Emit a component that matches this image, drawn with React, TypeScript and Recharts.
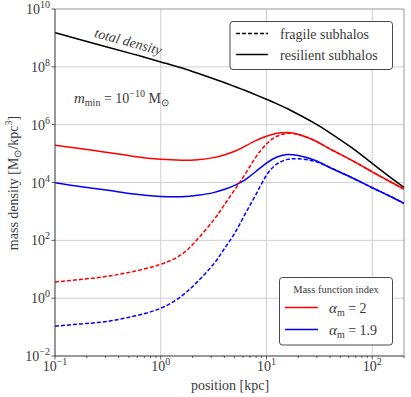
import { LineChart, Line, XAxis, YAxis, ReferenceLine } from "recharts";

// log10(position / kpc) sample points
const logPosition = [-1, -0.75, -0.5, -0.25, 0, 0.2, 0.35, 0.5, 0.6, 0.7, 0.8, 0.9, 1.0, 1.1, 1.2, 1.3, 1.45, 1.6, 1.8, 2.0, 2.15, 2.3];

// log10(mass density / (Msun/kpc^3))
const totalDensity = [9.18, 8.93, 8.68, 8.43, 8.17, 7.96, 7.78, 7.59, 7.46, 7.32, 7.18, 7.03, 6.88, 6.72, 6.55, 6.36, 6.06, 5.72, 5.22, 4.66, 4.24, 3.83];
const redResilient = [5.29, 5.17, 5.04, 4.9, 4.8, 4.77, 4.79, 4.86, 4.95, 5.08, 5.26, 5.45, 5.6, 5.7, 5.73, 5.67, 5.46, 5.16, 4.78, 4.37, 4.07, 3.77];
const redFragile = [0.56, 0.65, 0.76, 0.93, 1.17, 1.52, 2.05, 2.7, 3.22, 3.75, 4.3, 4.88, 5.33, 5.6, 5.7, 5.66, 5.46, 5.16, 4.78, 4.37, 4.07, 3.77];
const blueResilient = [3.99, 3.85, 3.73, 3.6, 3.52, 3.51, 3.56, 3.65, 3.76, 3.9, 4.1, 4.38, 4.67, 4.88, 4.97, 4.93, 4.78, 4.52, 4.18, 3.82, 3.56, 3.28];
const blueFragile = [-0.97, -0.89, -0.8, -0.62, -0.35, 0.08, 0.58, 1.18, 1.7, 2.25, 2.92, 3.58, 4.25, 4.64, 4.8, 4.82, 4.74, 4.52, 4.18, 3.82, 3.56, 3.28];

const xMajor = [-1, 0, 1, 2];
const yMajor = [-2, 0, 2, 4, 6, 8, 10];
const xMax = Math.log10(200);

const data = logPosition.map((lx, i) => ({
  lx,
  total: totalDensity[i],
  redRes: redResilient[i],
  redFrag: redFragile[i],
  blueRes: blueResilient[i],
  blueFrag: blueFragile[i],
}));

const xMinor: number[] = [];
for (let d = -1; d <= 2; d++) {
  for (let k = 2; k <= 9; k++) {
    const v = Math.log10(k * Math.pow(10, d));
    if (v <= xMax + 1e-9) xMinor.push(v);
  }
}
const xTicks = [...xMajor, ...xMinor];

const FONT = "Liberation Serif";
const TXT = "#3a3a3a";

function XTick(props: any) {
  const { x, y, payload } = props;
  const v = payload.value;
  const major = xMajor.some((m) => Math.abs(m - v) < 1e-9);
  return (
    <g>
      <line x1={x} x2={x} y1={y} y2={y + (major ? 3.5 : 2)} stroke="#333" strokeWidth={0.8} />
      {major && (
        <text x={x} y={y + 15} textAnchor="middle" fontFamily={FONT} fontSize={14} fill={TXT}>
          10
          <tspan dy={-6} fontSize={10}>{v < 0 ? "\u2212" + Math.abs(v) : v}</tspan>
        </text>
      )}
    </g>
  );
}

function YTick(props: any) {
  const { x, y, payload } = props;
  const v = payload.value;
  return (
    <g>
      <line x1={x} x2={x - 3.5} y1={y} y2={y} stroke="#333" strokeWidth={0.8} />
      <text x={x - 5} y={y + 5} textAnchor="end" fontFamily={FONT} fontSize={14} fill={TXT}>
        10
        <tspan dy={-6} fontSize={10}>{v < 0 ? "\u2212" + Math.abs(v) : v}</tspan>
      </text>
    </g>
  );
}

export default function App() {
  return (
    <div style={{ position: "fixed", left: 0, top: 0, width: 411, height: 397, background: "#fff" }}>
      <LineChart width={411} height={397} data={data} margin={{ top: 9, right: 7, left: 0, bottom: 0 }}>
        <XAxis
          dataKey="lx"
          type="number"
          domain={[-1, xMax]}
          ticks={xTicks}
          interval={0}
          allowDataOverflow
          height={41}
          tickLine={false}
          tickSize={0}
          tickMargin={0}
          axisLine={{ stroke: "#333", strokeWidth: 1 }}
          tick={<XTick />}
        />
        <YAxis
          type="number"
          domain={[-2, 10]}
          ticks={yMajor}
          interval={0}
          allowDataOverflow
          width={55}
          tickLine={false}
          tickSize={0}
          tickMargin={0}
          axisLine={{ stroke: "#333", strokeWidth: 1 }}
          tick={<YTick />}
        />
        {[0, 1, 2].map((v) => (
          <ReferenceLine key={"vx" + v} x={v} stroke="#cfcfcf" strokeWidth={1} />
        ))}
        {[0, 2, 4, 6, 8].map((v) => (
          <ReferenceLine key={"hy" + v} y={v} stroke="#cfcfcf" strokeWidth={1} />
        ))}
        <ReferenceLine y={10} stroke="#999" strokeWidth={1} />
        <ReferenceLine x={xMax} stroke="#999" strokeWidth={1} />
        <Line dataKey="total" type="natural" stroke="#000" strokeWidth={1.5} dot={false} isAnimationActive={false} />
        <Line dataKey="redRes" type="natural" stroke="#ff0000" strokeWidth={1.5} dot={false} isAnimationActive={false} />
        <Line dataKey="blueRes" type="natural" stroke="#0000ff" strokeWidth={1.5} dot={false} isAnimationActive={false} />
        <Line dataKey="redFrag" type="natural" stroke="#ff0000" strokeWidth={1.5} strokeDasharray="4 2" dot={false} isAnimationActive={false} />
        <Line dataKey="blueFrag" type="natural" stroke="#0000ff" strokeWidth={1.5} strokeDasharray="4 2" dot={false} isAnimationActive={false} />
      </LineChart>
      <svg width={411} height={397} style={{ position: "absolute", left: 0, top: 0, pointerEvents: "none" }}>
        {/* annotations */}
        <text x={127} y={46} textAnchor="middle" fontFamily={FONT} fontStyle="italic" fontSize={14} fill={TXT} transform="rotate(15.4 127 46)">
          total density
        </text>
        <text x={74} y={103} fontFamily={FONT} fontSize={14} fill={TXT}>
          <tspan fontStyle="italic" fontSize={15}>m</tspan>
          <tspan dy={3} fontSize={10}>min</tspan>
          <tspan dy={-3}> = 10</tspan>
          <tspan dy={-6} fontSize={10}>{"\u221210"}</tspan>
          <tspan dy={6}> M</tspan>
          <tspan dy={3} fontSize={10}>{"\u2299"}</tspan>
        </text>

        {/* line style legend */}
        <rect x={230} y={21.5} width={162.5} height={48} rx={3} fill="#fff" stroke="#333" strokeWidth={0.9} />
        <line x1={236} x2={268} y1={33.5} y2={33.5} stroke="#000" strokeWidth={1.5} strokeDasharray="4 2" />
        <text x={280} y={38.5} fontFamily={FONT} fontSize={14} fill={TXT}>fragile subhalos</text>
        <line x1={236} x2={268} y1={54.5} y2={54.5} stroke="#000" strokeWidth={1.5} />
        <text x={280} y={59.5} fontFamily={FONT} fontSize={14} fill={TXT}>resilient subhalos</text>

        {/* colour legend */}
        <rect x={279.5} y={277.5} width={113} height={67.5} rx={3} fill="#fff" stroke="#333" strokeWidth={0.9} />
        <text x={336} y={293} textAnchor="middle" fontFamily={FONT} fontSize={10.5} fill={TXT}>Mass function index</text>
        <line x1={285} x2={318} y1={307.5} y2={307.5} stroke="#ff0000" strokeWidth={1.5} />
        <text x={329} y={313} fontFamily={FONT} fontSize={14} fill={TXT}>
          <tspan fontStyle="italic" fontSize={15}>{"\u03b1"}</tspan>
          <tspan dy={3} fontSize={10}>m</tspan>
          <tspan dy={-3}> = 2</tspan>
        </text>
        <line x1={285} x2={318} y1={329.5} y2={329.5} stroke="#0000ff" strokeWidth={1.5} />
        <text x={329} y={335} fontFamily={FONT} fontSize={14} fill={TXT}>
          <tspan fontStyle="italic" fontSize={15}>{"\u03b1"}</tspan>
          <tspan dy={3} fontSize={10}>m</tspan>
          <tspan dy={-3}> = 1.9</tspan>
        </text>

        {/* axis labels */}
        <text x={230} y={390} textAnchor="middle" fontFamily={FONT} fontSize={14} fill={TXT}>position [kpc]</text>
        <text x={0} y={0} textAnchor="middle" fontFamily={FONT} fontSize={14} fill={TXT} transform="translate(18 183) rotate(-90)">
          mass density [M
          <tspan dy={3} fontSize={10}>{"\u2299"}</tspan>
          <tspan dy={-3}>/kpc</tspan>
          <tspan dy={-6} fontSize={10}>3</tspan>
          <tspan dy={6}>]</tspan>
        </text>
      </svg>
    </div>
  );
}
